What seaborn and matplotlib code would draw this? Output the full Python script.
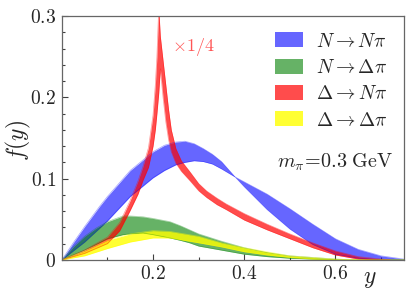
import numpy as np
import pandas as pd
import matplotlib
matplotlib.use("Agg")
import matplotlib.pyplot as plt
import matplotlib.ticker as mticker
import seaborn as sns

# N -> N pi band (two edge curves that cross near y=0.38)
blue_x = [0, 0.025, 0.05, 0.083, 0.1, 0.15, 0.2, 0.225, 0.25, 0.27, 0.29, 0.31, 0.33, 0.35, 0.38, 0.4, 0.45, 0.5, 0.55, 0.6, 0.65, 0.7, 0.75]
blue_a = [0, 0.021, 0.041, 0.066, 0.078, 0.110, 0.133, 0.141, 0.145, 0.146, 0.143, 0.137, 0.130, 0.121, 0.102, 0.090, 0.062, 0.038, 0.019, 0.007, 0.002, 0.0, 0.0]
blue_b = [0, 0.011, 0.022, 0.039, 0.048, 0.078, 0.101, 0.110, 0.117, 0.120, 0.122, 0.121, 0.118, 0.112, 0.102, 0.096, 0.081, 0.063, 0.044, 0.026, 0.013, 0.005, 0.001]

# N -> Delta pi
green_x = [0, 0.025, 0.05, 0.075, 0.1, 0.134, 0.15, 0.178, 0.2, 0.237, 0.26, 0.28, 0.3, 0.35, 0.4, 0.45, 0.5, 0.55, 0.6, 0.65, 0.75]
green_hi = [0, 0.016, 0.029, 0.039, 0.047, 0.054, 0.054, 0.053, 0.051, 0.047, 0.042, 0.037, 0.032, 0.023, 0.015, 0.009, 0.005, 0.003, 0.001, 0.0, 0.0]
green_lo = [0, 0.006, 0.012, 0.019, 0.026, 0.031, 0.032, 0.033, 0.031, 0.027, 0.024, 0.021, 0.017, 0.012, 0.007, 0.004, 0.002, 0.001, 0.0, 0.0, 0.0]

# Delta -> N pi (shown x 1/4), sharp cusp near y = 0.21
red_x = [0, 0.05, 0.1, 0.127, 0.149, 0.167, 0.178, 0.19, 0.2, 0.205, 0.2085, 0.2125,
         0.216, 0.222, 0.228, 0.234, 0.24, 0.25, 0.262, 0.28, 0.3, 0.317, 0.34, 0.36, 0.4,
         0.45, 0.5, 0.55, 0.6, 0.65, 0.7, 0.72]
red_hi = [0, 0.012, 0.028, 0.046, 0.072, 0.097, 0.115, 0.138, 0.178, 0.215, 0.250, 0.310,
          0.275, 0.245, 0.215, 0.185, 0.160, 0.137, 0.122, 0.109, 0.094, 0.085, 0.076, 0.069, 0.057,
          0.044, 0.032, 0.021, 0.011, 0.004, 0.001, 0.0]
red_lo = [0, 0.008, 0.020, 0.036, 0.060, 0.081, 0.098, 0.114, 0.140, 0.160, 0.180, 0.205,
          0.235, 0.200, 0.170, 0.148, 0.133, 0.119, 0.109, 0.098, 0.085, 0.077, 0.068, 0.062, 0.049,
          0.037, 0.026, 0.015, 0.006, 0.001, 0.0, 0.0]

# Delta -> Delta pi
yellow_x = [0, 0.05, 0.1, 0.15, 0.2, 0.237, 0.3, 0.35, 0.4, 0.45, 0.5, 0.55, 0.6, 0.65, 0.75]
yellow_hi = [0, 0.011, 0.024, 0.032, 0.036, 0.035, 0.029, 0.021, 0.015, 0.010, 0.005, 0.003, 0.001, 0, 0]
yellow_lo = [0, 0.005, 0.014, 0.022, 0.027, 0.027, 0.021, 0.016, 0.010, 0.006, 0.003, 0.001, 0, 0, 0]

labels = [r"$N\rightarrow N\pi$", r"$N\rightarrow \Delta\pi$",
          r"$\Delta\rightarrow N\pi$", r"$\Delta\rightarrow \Delta\pi$"]


def draw_band(ax, x, lo, hi, color, alpha, label):
    df = pd.DataFrame({"x": x, "lo": lo, "hi": hi})
    ax.fill_between(df["x"], df["lo"], df["hi"], color=color, alpha=alpha,
                    linewidth=0, label=label)
    sns.lineplot(data=df, x="x", y="lo", ax=ax, color=color, alpha=alpha * 0.6, lw=0.5)
    sns.lineplot(data=df, x="x", y="hi", ax=ax, color=color, alpha=alpha * 0.6, lw=0.5)


def main():
    sns.set_style("ticks")
    plt.rcParams["mathtext.fontset"] = "cm"
    plt.rcParams["font.family"] = ["DejaVu Serif"]

    fig = plt.figure(figsize=(4.15, 2.97), dpi=100)
    ax = fig.add_axes([0.149, 0.125, 0.824, 0.821])

    draw_band(ax, blue_x, blue_b, blue_a, "blue", 0.6, labels[0])
    draw_band(ax, green_x, green_lo, green_hi, "green", 0.6, labels[1])
    draw_band(ax, red_x, red_lo, red_hi, "red", 0.7, labels[2])
    draw_band(ax, yellow_x, yellow_lo, yellow_hi, "yellow", 0.8, labels[3])

    ax.set_xlim(0, 0.75)
    ax.set_ylim(0, 0.3)
    ax.xaxis.set_major_locator(mticker.FixedLocator([0.2, 0.4, 0.6]))
    ax.xaxis.set_minor_locator(mticker.MultipleLocator(0.1))
    ax.yaxis.set_major_locator(mticker.MultipleLocator(0.1))
    ax.yaxis.set_minor_locator(mticker.MultipleLocator(0.02))
    fmt = mticker.FuncFormatter(lambda v, _: f"${v:g}$")
    ax.xaxis.set_major_formatter(fmt)
    ax.yaxis.set_major_formatter(fmt)
    ax.tick_params(which="both", direction="in", top=False, right=False,
                   labelsize=14, color="0.25", width=0.8)
    ax.tick_params(which="major", length=4, pad=4)
    ax.tick_params(which="minor", length=2.5)
    for s in ax.spines.values():
        s.set_color("0.4")
        s.set_linewidth(0.9)

    ax.set_xlabel(r"$y$", fontsize=17)
    ax.xaxis.set_label_coords(0.9, -0.03)
    ax.set_ylabel(r"$f(y)$", fontsize=17)
    ax.yaxis.set_label_coords(-0.085, 0.49)

    ax.text(0.289, 0.262, r"$\times 1/4$", color="#ff5555", fontsize=13,
            ha="center", va="center")
    ax.text(0.968, 0.40, r"$m_\pi\!=\!0.3\;\mathrm{GeV}$", transform=ax.transAxes,
            fontsize=14.5, ha="right", va="center")

    ax.legend(loc="upper right", bbox_to_anchor=(0.975, 0.965), frameon=False,
              fontsize=14, handlelength=1.45, handleheight=0.8,
              labelspacing=0.42, handletextpad=0.65, borderaxespad=0)

    fig.savefig("out.png", dpi=100)


if __name__ == "__main__":
    main()
